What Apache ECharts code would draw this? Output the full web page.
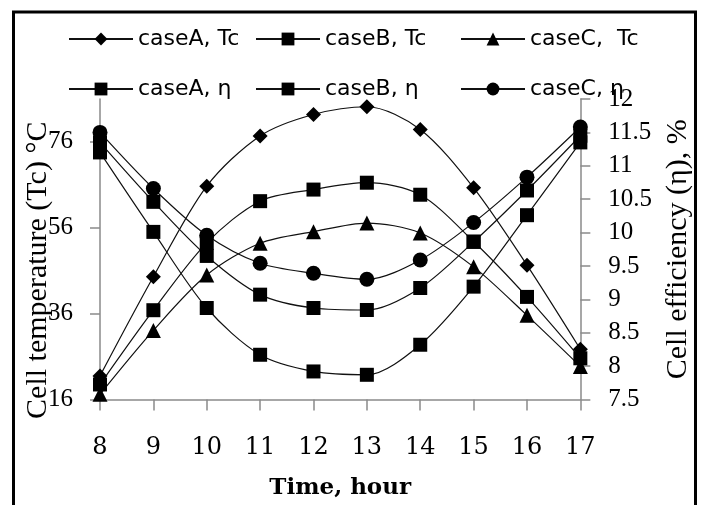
<!DOCTYPE html>
<html>
<head>
<meta charset="utf-8">
<script src="https://cdn.jsdelivr.net/npm/echarts@6/dist/echarts.min.js"></script>
<style>
  html, body { margin: 0; padding: 0; background: #fff; }
  #chart { width: 701px; height: 505px; }
</style>
</head>
<body>
<div id="chart"></div>
<script>
// hours on the x axis
const hours = [8, 9, 10, 11, 12, 13, 14, 15, 16, 17];

// cell temperature, left axis (°C)
const caseATc = [21.5, 44.6, 65.7, 77.4, 82.4, 84.2, 78.9, 65.3, 47.3, 27.7];
const caseBTc = [19.5, 36.8, 52.5, 62.2, 64.9, 66.5, 63.7, 52.8, 39.9, 25.6];
const caseCTc = [17.2, 32.1, 45.0, 52.4, 55.1, 57.1, 54.8, 46.9, 35.6, 23.7];

// cell efficiency, right axis (%)
const caseAEta = [11.2, 10.01, 8.87, 8.17, 7.92, 7.87, 8.32, 9.19, 10.26, 11.35];
const caseBEta = [11.35, 10.46, 9.65, 9.07, 8.87, 8.84, 9.17, 9.86, 10.63, 11.45];
const caseCEta = [11.5, 10.66, 9.96, 9.54, 9.39, 9.3, 9.59, 10.15, 10.83, 11.58];

const legendRow1 = ["caseA, Tc", "caseB, Tc", "caseC,  Tc"];
const legendRow2 = ["caseA, η", "caseB, η", "caseC, η"];

const tempAxis = { min: 16, max: 86, interval: 20 };
const etaAxis = { min: 7.5, max: 12, interval: 0.5 };

const serif = "'Liberation Serif', 'Times New Roman', serif";
const axisGray = "#8a8a8a";

function makeSeries(name, values, symbol, size, axis) {
  return {
    name: name,
    type: "line",
    yAxisIndex: axis,
    smooth: 0.3,
    symbol: symbol,
    symbolSize: size,
    data: hours.map((h, i) => [h, values[i]]),
    lineStyle: { color: "#111", width: 1.2 },
    itemStyle: { color: "#000" },
    emphasis: { disabled: true },
  };
}

let myChart = echarts.init(document.getElementById("chart"));

// one legend per item so each sits where it is in the picture
const legendLeft = [68, 255, 460];
const legends = [];
[legendRow1, legendRow2].forEach((row, r) => {
  row.forEach((name, i) => {
    legends.push({
      data: [name],
      left: legendLeft[i],
      top: r ? 78 : 28,
      padding: 0,
      itemWidth: 64,
      itemHeight: 16,
      itemGap: 0,
      selectedMode: false,
      textStyle: { fontFamily: "'DejaVu Sans', sans-serif", fontSize: 22, color: "#000" },
    });
  });
});

let option = {
  animation: false,
  backgroundColor: "#fff",
  legend: legends,
  grid: { left: 100, right: 109, top: 99, bottom: 105.5 },
  xAxis: {
    type: "value",
    min: 8,
    max: 17,
    interval: 1,
    name: "Time, hour",
    nameLocation: "middle",
    nameGap: 77,
    nameTextStyle: { fontFamily: "'DejaVu Serif', serif", fontWeight: "bold", fontSize: 23, color: "#000" },
    axisLine: { lineStyle: { color: axisGray, width: 1.5 } },
    axisTick: { length: 11, lineStyle: { color: axisGray, width: 1.5 } },
    axisLabel: { margin: 36, fontFamily: "'DejaVu Serif', serif", fontSize: 24, color: "#000" },
    splitLine: { show: false },
  },
  yAxis: [
    {
      type: "value",
      position: "left",
      min: tempAxis.min,
      max: tempAxis.max,
      interval: tempAxis.interval,
      name: "Cell temperature (Tc) °C",
      nameLocation: "middle",
      nameRotate: 90,
      nameGap: 47,
      nameMoveOverlap: false, // the title sits over the tick labels in the original
      nameTextStyle: { fontFamily: serif, fontSize: 30, color: "#000", padding: [0, 42, 0, 0] },
      axisLine: { show: true, lineStyle: { color: axisGray, width: 1.5 } },
      axisTick: { show: true, length: 10, lineStyle: { color: axisGray, width: 1.5 } },
      axisLabel: { margin: 27, showMaxLabel: false, fontFamily: serif, fontSize: 25, color: "#000" },
      splitLine: { show: false },
    },
    {
      type: "value",
      position: "right",
      min: etaAxis.min,
      max: etaAxis.max,
      interval: etaAxis.interval,
      name: "Cell efficiency (η), %",
      nameLocation: "middle",
      nameRotate: 90,
      nameGap: 66,
      nameTextStyle: { fontFamily: serif, fontSize: 30, color: "#000" },
      axisLine: { show: true, lineStyle: { color: axisGray, width: 1.5 } },
      axisTick: { show: true, length: 10, lineStyle: { color: axisGray, width: 1.5 } },
      axisLabel: { margin: 28, fontFamily: serif, fontSize: 25, color: "#000" },
      splitLine: { show: false },
    },
  ],
  graphic: [
    {
      type: "rect",
      silent: true,
      shape: { x: 13.5, y: 12, width: 682, height: 520 },
      style: { fill: "none", stroke: "#000", lineWidth: 3 },
    },
  ],
  series: [
    makeSeries(legendRow1[0], caseATc, "diamond", 15, 0),
    makeSeries(legendRow1[1], caseBTc, "rect", 14, 0),
    makeSeries(legendRow1[2], caseCTc, "triangle", 15, 0),
    makeSeries(legendRow2[0], caseAEta, "rect", 14, 1),
    makeSeries(legendRow2[1], caseBEta, "rect", 14, 1),
    makeSeries(legendRow2[2], caseCEta, "circle", 15, 1),
  ],
};
myChart.setOption(option);
window.addEventListener("resize", () => {
  myChart.resize();
});
</script>
</body>
</html>
